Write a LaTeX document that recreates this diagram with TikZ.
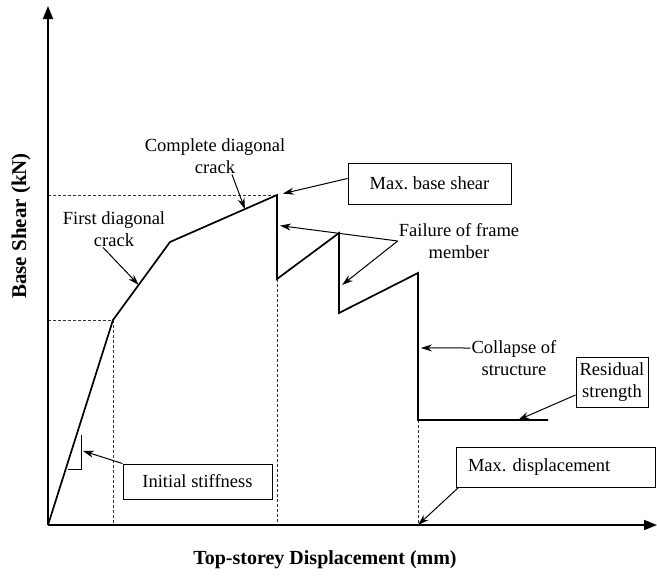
\documentclass[tikz,border=0pt]{standalone}
\usepackage{fontspec}
\setmainfont{Liberation Serif}
\usetikzlibrary{arrows.meta, positioning, calc}
\frenchspacing

\begin{document}
\begin{tikzpicture}[x=1pt, y=-1pt,
    % Styles
    axis/.style={line width=1.7pt, -{Triangle[length=13pt, width=10pt]}},
    curve/.style={line width=1.7pt, line join=miter},
    guide/.style={line width=0.6pt, dash pattern=on 3pt off 2pt, black!80},
    note/.style={font=\fontsize{18.5}{21.5}\selectfont, align=center, inner sep=1pt},
    notebox/.style={note, draw, line width=1pt, inner sep=0pt},
    pointer/.style={line width=1pt, -{Stealth[length=11pt, width=7pt]}},
    axislabel/.style={font=\fontsize{20}{24}\selectfont\bfseries},
]

\useasboundingbox (0,0) rectangle (657,576);

% === Curve points ===
\coordinate (origin) at (48,525);
\coordinate (fdc) at (113,320);
\coordinate (knee) at (170,242);
\coordinate (peak) at (277,195);
\coordinate (drop1) at (277,279);
\coordinate (tooth1) at (339,233);
\coordinate (drop2) at (339,313);
\coordinate (tooth2) at (418,273);
\coordinate (floor) at (418,420);
\coordinate (resend) at (548,420);

% === Dashed guides ===
\draw[guide] (origin |- fdc) -- (fdc) -- (fdc |- origin);
\draw[guide] (origin |- peak) -- (peak);
\draw[guide] (drop1) -- (drop1 |- origin);
\draw[guide] (floor) -- (floor |- origin);

% === Axes ===
\draw[axis] (origin) -- (48,6);
\draw[axis] (origin) -- (657,525);
\node[axislabel] (xlab) at (325,560) {Top-storey Displacement (mm)};
\node[axislabel, rotate=90, font=\fontsize{21}{24}\selectfont\bfseries] (ylab) at (21,226) {Base Shear (kN)};

% === Capacity curve ===
\draw[curve] (origin) -- (fdc) -- (knee) -- (peak) -- (drop1) -- (tooth1)
    -- (drop2) -- (tooth2) -- (floor) -- (resend);

% stiffness mark
\coordinate (tri1) at (68,469);
\coordinate (tri2) at (81,469);
\coordinate (tri3) at (81,435);
\draw[line width=0.8pt] (tri1) -- (tri2) -- (tri3);

% === Labels ===
\node[note] (first) at (114,229) {First diagonal\\crack};
\node[note] (complete) at (215,156) {Complete diagonal\\crack};
\node[notebox, minimum width=163pt, minimum height=41pt] (mbs) at (429.5,183.5) {Max. base shear};
\node[note] (failure) at (459,241) {Failure of frame\\member};
\node[note] (collapse) at (514,358) {Collapse of\\structure};
\node[notebox, inner sep=1.5pt, minimum width=72pt, minimum height=50pt] (residual) at (612,382) {Residual\\strength};
\node[notebox, minimum width=149pt, minimum height=35pt] (stiff) at (197.5,481.5) {Initial stiffness};
\node[notebox, minimum width=199pt, minimum height=40pt, text width=175pt, align=left] (maxdisp) at (555.5,467) {Max. displacement};

% === Pointers ===
\draw[pointer] ([xshift=-11pt]first.south) -- ($(fdc)!0.45!(knee)$);
\draw[pointer] ([xshift=17pt]complete.south) -- ($(knee)!0.70!(peak)$);
\draw[pointer, shorten >=6pt] ([yshift=5pt]mbs.west) -- (peak);
\draw[pointer, shorten >=3pt] (failure.west) -- ($(peak)!0.36!(drop1)$);
\draw[pointer, shorten >=4pt] (failure.west) -- ($(tooth1)!0.68!(drop2)$);
\draw[pointer, shorten >=3pt] ([yshift=10pt]collapse.west) -- ($(tooth2)!0.51!(floor)$);
\draw[pointer] ([yshift=-13pt]residual.west) -- ($(floor)!0.77!(resend)$);
\draw[pointer, shorten >=2pt] (stiff.north west) -- ($(tri2)!0.55!(tri3)$);
\draw[pointer] ([xshift=3pt]maxdisp.south west) -- (floor |- origin);

\end{tikzpicture}
\end{document}
